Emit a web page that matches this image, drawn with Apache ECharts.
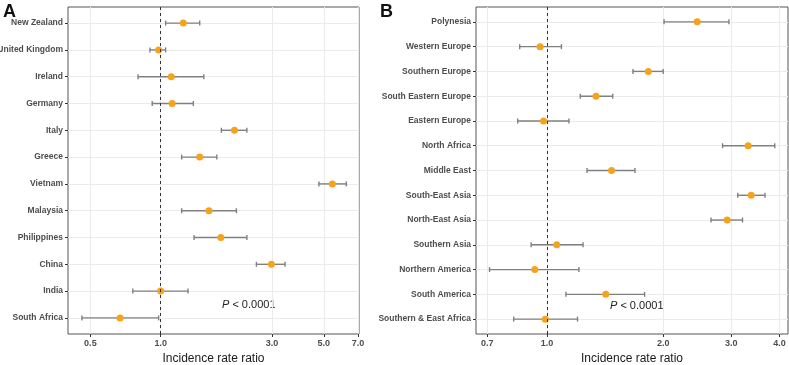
<!DOCTYPE html>
<html>
<head>
<meta charset="utf-8">
<script src="https://cdn.jsdelivr.net/npm/echarts@6/dist/echarts.min.js"></script>
<style>
  html, body { margin: 0; padding: 0; background: #fff; }
  #chart { width: 789px; height: 365px; }
</style>
</head>
<body>
<div id="chart"></div>
<script>
// panel A - country of birth
const countries = ['New Zealand', 'United Kingdom', 'Ireland', 'Germany', 'Italy', 'Greece',
  'Vietnam', 'Malaysia', 'Philippines', 'China', 'India', 'South Africa']
const countryIrr = [1.25, 0.98, 1.11, 1.12, 2.07, 1.47, 5.44, 1.61, 1.81, 2.98, 1.00, 0.67]
const countryLo = [1.05, 0.90, 0.80, 0.92, 1.82, 1.23, 4.76, 1.23, 1.39, 2.57, 0.76, 0.46]
const countryHi = [1.47, 1.05, 1.53, 1.38, 2.34, 1.74, 6.24, 2.11, 2.34, 3.41, 1.31, 0.98]
const ticksA = [0.5, 1.0, 3.0, 5.0, 7.0]

// panel B - region of birth
const regions = ['Polynesia', 'Western Europe', 'Southern Europe', 'South Eastern Europe',
  'Eastern Europe', 'North Africa', 'Middle East', 'South-East Asia', 'North-East Asia',
  'Southern Asia', 'Northern America', 'South America', 'Southern & East Africa']
const regionIrr = [2.45, 0.96, 1.83, 1.34, 0.98, 3.32, 1.47, 3.38, 2.93, 1.06, 0.93, 1.42, 0.99]
const regionLo = [2.01, 0.85, 1.67, 1.22, 0.84, 2.85, 1.27, 3.12, 2.66, 0.91, 0.71, 1.12, 0.82]
const regionHi = [2.96, 1.09, 2.00, 1.48, 1.14, 3.89, 1.69, 3.67, 3.21, 1.24, 1.21, 1.79, 1.20]
const ticksB = [0.7, 1.0, 2.0, 3.0, 4.0]

const pText = '{i|P} < 0.0001'

const lg = v => Math.log10(v)
const labelColor = '#4d4d4d'
const gridColor = '#ebebeb'
const barColor = '#808080'
const dotColor = '#f7a21b'

function errorBar(params, api) {
  const lo = api.coord([api.value(0), api.value(2)])
  const hi = api.coord([api.value(1), api.value(2)])
  const h = 2.5
  const style = { stroke: barColor, lineWidth: 1.4 }
  return {
    type: 'group',
    children: [
      { type: 'line', shape: { x1: lo[0], y1: lo[1], x2: hi[0], y2: hi[1] }, style },
      { type: 'line', shape: { x1: lo[0], y1: lo[1] - h, x2: lo[0], y2: lo[1] + h }, style },
      { type: 'line', shape: { x1: hi[0], y1: hi[1] - h, x2: hi[0], y2: hi[1] + h }, style }
    ]
  }
}

function xAxisFor(idx, ticks, min, max) {
  const vals = ticks.map(lg)
  return {
    type: 'value',
    gridIndex: idx,
    position: 'bottom',
    min: lg(min),
    max: lg(max),
    name: 'Incidence rate ratio',
    nameLocation: 'middle',
    nameGap: 19,
    nameTextStyle: { fontSize: 12, color: '#1a1a1a', fontFamily: 'Liberation Sans' },
    axisLine: { show: false, onZero: false },
    axisTick: { show: true, customValues: vals, length: 3, lineStyle: { color: '#333' } },
    axisLabel: {
      customValues: vals,
      margin: 5,
      fontSize: 9,
      fontWeight: 'bold',
      color: labelColor,
      fontFamily: 'Liberation Sans',
      formatter: v => Math.pow(10, v).toFixed(1)
    },
    splitLine: { show: true, lineStyle: { color: gridColor, width: 1 } }
  }
}

function yAxisFor(idx, names) {
  const idxs = names.map((d, i) => i)
  return {
    type: 'value',
    gridIndex: idx,
    position: 'left',
    inverse: true,
    min: -0.6,
    max: names.length - 0.4,
    axisLine: { show: false, onZero: false },
    axisTick: { show: true, customValues: idxs, length: 3, lineStyle: { color: '#333' } },
    axisLabel: {
      customValues: idxs,
      margin: 5,
      fontSize: 8.5,
      fontWeight: 'bold',
      color: labelColor,
      fontFamily: 'Liberation Sans',
      formatter: v => names[Math.round(v)]
    },
    splitLine: { show: true, lineStyle: { color: gridColor, width: 1 } }
  }
}

function seriesFor(idx, irr, lo, hi) {
  return [
    {
      type: 'custom',
      xAxisIndex: idx,
      yAxisIndex: idx,
      renderItem: errorBar,
      encode: { x: [0, 1], y: 2 },
      data: lo.map((d, i) => [lg(d), lg(hi[i]), i]),
      z: 2
    },
    {
      type: 'scatter',
      xAxisIndex: idx,
      yAxisIndex: idx,
      symbolSize: 7,
      itemStyle: { color: dotColor, opacity: 1 },
      data: irr.map((d, i) => [lg(d), i]),
      z: 3,
      markLine: {
        silent: true,
        symbol: 'none',
        label: { show: false },
        lineStyle: { color: '#333', type: [3, 3], width: 1 },
        data: [{ xAxis: 0 }]
      }
    }
  ]
}

const chart = echarts.init(document.getElementById('chart'))
chart.setOption({
  animation: false,
  grid: [
    { left: 68, top: 7, width: 291, height: 327, outerBoundsMode: 'none', containLabel: false, show: true, borderColor: '#555', borderWidth: 1, backgroundColor: 'transparent' },
    { left: 476, top: 7, width: 312, height: 327, outerBoundsMode: 'none', containLabel: false, show: true, borderColor: '#555', borderWidth: 1, backgroundColor: 'transparent' }
  ],
  xAxis: [
    xAxisFor(0, ticksA, 0.401, 7.07),
    xAxisFor(1, ticksB, 0.655, 4.21)
  ],
  yAxis: [
    yAxisFor(0, countries),
    yAxisFor(1, regions)
  ],
  series: [
    ...seriesFor(0, countryIrr, countryLo, countryHi),
    ...seriesFor(1, regionIrr, regionLo, regionHi)
  ],
  graphic: [
    { type: 'text', left: 3, top: 3, style: { text: 'A', font: 'bold 18px "Liberation Sans"', fill: '#111' } },
    { type: 'text', left: 380, top: 3, style: { text: 'B', font: 'bold 18px "Liberation Sans"', fill: '#111' } },
    {
      type: 'text', left: 222, top: 299,
      style: {
        text: pText, font: '11px "Liberation Sans"', fill: '#222',
        rich: { i: { fontStyle: 'italic', fontSize: 11, fontFamily: 'Liberation Sans', fill: '#222' } }
      }
    },
    {
      type: 'text', left: 610, top: 300,
      style: {
        text: pText, font: '11px "Liberation Sans"', fill: '#222',
        rich: { i: { fontStyle: 'italic', fontSize: 11, fontFamily: 'Liberation Sans', fill: '#222' } }
      }
    }
  ]
})
</script>
</body>
</html>
